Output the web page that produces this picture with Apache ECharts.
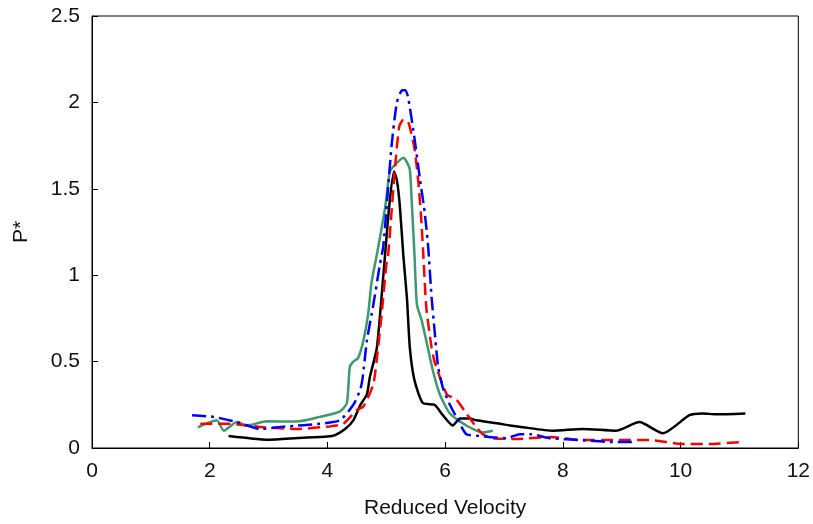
<!DOCTYPE html>
<html>
<head>
<meta charset="utf-8">
<script src="https://cdn.jsdelivr.net/npm/echarts@6/dist/echarts.min.js"></script>
<style>
  html, body { margin: 0; padding: 0; background: #fff; }
  #chart { width: 813px; height: 524px; }
</style>
</head>
<body>
<div id="chart"></div>
<script>
// values, [reduced velocity, P*]
var blackLine = [
  [2.32, 0.069], [2.7, 0.055], [3.0, 0.048], [3.5, 0.058], [4.0, 0.067], [4.13, 0.075],
  [4.3, 0.11], [4.44, 0.16], [4.56, 0.25], [4.67, 0.31], [4.72, 0.41], [4.84, 0.58],
  [4.95, 1.0], [5.05, 1.4], [5.13, 1.60], [5.18, 1.55], [5.23, 1.40], [5.29, 1.11],
  [5.35, 0.87], [5.40, 0.58], [5.48, 0.39], [5.62, 0.26], [5.82, 0.25], [5.96, 0.19],
  [6.13, 0.13], [6.25, 0.17], [6.42, 0.17], [6.53, 0.16], [6.93, 0.14], [7.1, 0.13],
  [7.32, 0.12], [7.83, 0.10], [8.34, 0.11], [8.9, 0.10], [9.3, 0.15], [9.7, 0.085],
  [10.15, 0.19], [10.37, 0.20], [10.6, 0.195], [11.1, 0.20]
];
var greenLine = [
  [1.8, 0.12], [2.12, 0.16], [2.24, 0.10], [2.46, 0.15], [2.63, 0.13], [2.97, 0.155],
  [3.48, 0.153], [3.87, 0.18], [4.21, 0.21], [4.33, 0.26], [4.38, 0.47], [4.44, 0.50],
  [4.52, 0.52], [4.61, 0.62], [4.69, 0.77], [4.75, 0.96], [4.84, 1.12], [4.98, 1.39],
  [5.06, 1.60], [5.15, 1.64], [5.29, 1.68], [5.34, 1.66], [5.40, 1.61], [5.43, 1.44],
  [5.48, 1.11], [5.52, 0.83], [5.60, 0.74], [5.68, 0.62], [5.79, 0.45], [5.91, 0.31],
  [6.08, 0.20], [6.36, 0.13], [6.64, 0.09], [6.81, 0.10]
];
var blueLine = [
  [1.70, 0.19], [2.07, 0.18], [2.46, 0.15], [2.86, 0.11], [3.31, 0.125], [3.87, 0.14],
  [4.21, 0.16], [4.44, 0.25], [4.56, 0.34], [4.6, 0.41], [4.67, 0.62], [4.78, 0.83],
  [4.89, 1.06], [4.95, 1.17], [5.09, 1.75], [5.18, 2.0], [5.27, 2.07], [5.32, 2.07],
  [5.37, 2.03], [5.48, 1.79], [5.57, 1.56], [5.65, 1.37], [5.71, 1.17], [5.77, 0.87],
  [5.82, 0.68], [5.88, 0.47], [5.96, 0.35], [6.08, 0.25], [6.19, 0.18], [6.36, 0.08],
  [6.58, 0.07], [6.8, 0.062], [7.04, 0.057], [7.27, 0.08], [7.44, 0.08], [7.78, 0.057],
  [8.34, 0.045], [8.9, 0.034], [9.2, 0.034]
];
var redLine = [
  [1.84, 0.14], [2.35, 0.14], [2.91, 0.12], [3.48, 0.11], [4.04, 0.125], [4.27, 0.14],
  [4.5, 0.22], [4.61, 0.24], [4.78, 0.37], [4.86, 0.58], [4.92, 0.77], [5.0, 1.06],
  [5.03, 1.11], [5.15, 1.63], [5.22, 1.86], [5.29, 1.90], [5.37, 1.89], [5.48, 1.73],
  [5.55, 1.52], [5.6, 1.29], [5.63, 1.11], [5.68, 0.81], [5.77, 0.58], [5.82, 0.50],
  [5.91, 0.41], [6.03, 0.31], [6.19, 0.28], [6.36, 0.20], [6.53, 0.12], [6.64, 0.08],
  [6.81, 0.057], [7.2, 0.052], [7.78, 0.063], [8.34, 0.046], [8.9, 0.046], [9.47, 0.046],
  [10.03, 0.023], [10.5, 0.023], [11.0, 0.034]
];

var labelFont = { fontFamily: 'Liberation Sans, Arial, sans-serif', fontSize: 21, color: '#111' };

function lineSeries(data, color, dash) {
  return {
    type: 'line',
    data: data,
    showSymbol: false,
    smooth: 0.2,
    lineStyle: { color: color, width: 2.5, type: dash },
    z: 3
  };
}

var myChart = echarts.init(document.getElementById('chart'));
myChart.setOption({
  animation: false,
  grid: {
    left: 92, right: 14, top: 16, bottom: 73,
    show: true, borderColor: '#000', borderWidth: 1, backgroundColor: 'transparent'
  },
  xAxis: {
    type: 'value', min: 0, max: 12, interval: 2,
    name: 'Reduced Velocity', nameLocation: 'middle', nameGap: 50,
    nameTextStyle: labelFont,
    axisLine: { lineStyle: { color: '#000', width: 1 } },
    axisTick: { inside: true, length: 6, lineStyle: { color: '#000' } },
    axisLabel: Object.assign({ margin: 13 }, labelFont),
    splitLine: { show: false }
  },
  yAxis: {
    type: 'value', min: 0, max: 2.5, interval: 0.5,
    name: 'P*', nameLocation: 'middle', nameGap: 60,
    nameTextStyle: labelFont,
    axisLine: { show: true, lineStyle: { color: '#000', width: 1 } },
    axisTick: { show: true, inside: true, length: 6, lineStyle: { color: '#000' } },
    axisLabel: Object.assign({ margin: 12 }, labelFont),
    splitLine: { show: false }
  },
  series: [
    lineSeries(greenLine, '#3d9a6c', 'solid'),
    lineSeries(blackLine, '#000000', 'solid'),
    lineSeries(redLine, '#ff0000', [12, 6]),
    lineSeries(blueLine, '#0000ff', [14, 5, 3, 5])
  ]
});
</script>
</body>
</html>
